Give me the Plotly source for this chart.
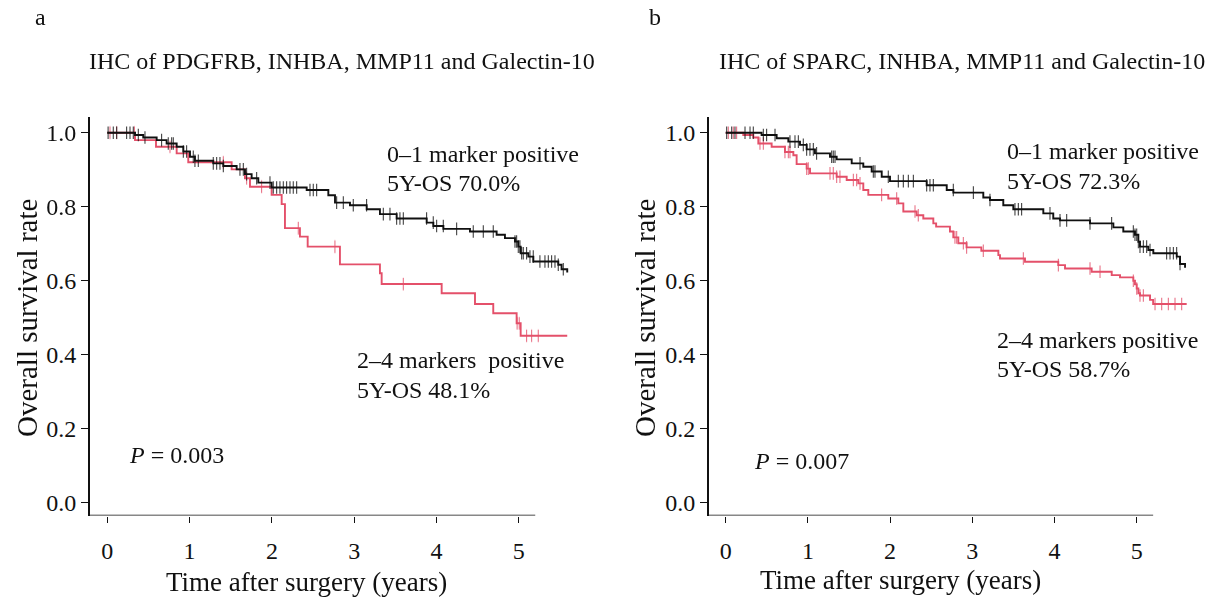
import numpy as np
import plotly.graph_objects as go

# ---------------- data ----------------
# Panel a : IHC of PDGFRB, INHBA, MMP11 and Galectin-10
a_low_t = [0, 0.337, 0.437, 0.600, 0.721, 0.843, 0.924, 1.005, 1.065, 1.288, 1.410, 1.572, 1.673,
           1.754, 1.835, 1.997, 2.423, 2.686, 2.767, 2.949, 3.152, 3.313, 3.516, 3.881, 3.962,
           4.084, 4.407, 4.731, 4.832, 4.954, 4.994, 5.023, 5.116, 5.177, 5.480, 5.520, 5.589]
a_low_s = [1.0, 0.994, 0.987, 0.980, 0.971, 0.962, 0.949, 0.935, 0.924, 0.917, 0.910, 0.901, 0.888,
           0.877, 0.865, 0.852, 0.845, 0.831, 0.811, 0.804, 0.793, 0.780, 0.768, 0.757, 0.748,
           0.740, 0.733, 0.724, 0.715, 0.706, 0.692, 0.674, 0.665, 0.652, 0.643, 0.631, 0.622]
a_low_cens = [0.01, 0.073, 0.114, 0.235, 0.276, 0.316, 0.377, 0.458, 0.660, 0.741, 0.782, 0.802,
              0.924, 0.964, 1.045, 1.065, 1.106, 1.288, 1.329, 1.369, 1.410, 1.612, 1.653, 1.693,
              1.815, 1.977, 2.017, 2.058, 2.098, 2.139, 2.179, 2.220, 2.260, 2.301, 2.463, 2.503,
              2.544, 2.787, 2.868, 2.989, 3.151, 3.354, 3.435, 3.516, 3.556, 3.597, 3.880, 3.961,
              4.002, 4.083, 4.245, 4.447, 4.569, 4.690, 4.954, 4.974, 4.994, 5.014, 5.035, 5.055,
              5.095, 5.136, 5.176, 5.257, 5.318, 5.359, 5.399, 5.440, 5.480, 5.541]

a_high_t = [0, 0.337, 0.592, 0.843, 0.984, 1.511, 1.673, 1.734, 1.997, 2.119, 2.159, 2.341, 2.435,
            2.827, 3.313, 3.334, 4.063, 4.468, 4.690, 4.974, 5.023, 5.589]
a_high_s = [1.0, 0.980, 0.962, 0.944, 0.920, 0.901, 0.877, 0.854, 0.832, 0.807, 0.742, 0.719, 0.692,
            0.644, 0.620, 0.591, 0.566, 0.537, 0.512, 0.485, 0.451, 0.451]
a_high_cens = [0.033, 0.114, 0.330, 0.762, 1.410, 1.693, 1.875, 2.321, 2.766, 3.597, 4.980, 5.006,
               5.095, 5.156, 5.237]

# Panel b : IHC of SPARC, INHBA, MMP11 and Galectin-10
b_low_t = [0, 0.437, 0.620, 0.762, 0.904, 0.985, 1.086, 1.269, 1.350, 1.533, 1.674, 1.776, 1.898,
           1.999, 2.445, 2.689, 2.770, 3.134, 3.215, 3.377, 3.499, 3.864, 3.985, 4.067, 4.432,
           4.716, 4.837, 4.979, 5.020, 5.040, 5.141, 5.202, 5.487, 5.527, 5.588]
b_low_s = [1.0, 0.994, 0.985, 0.976, 0.967, 0.955, 0.944, 0.935, 0.928, 0.917, 0.908, 0.895, 0.881,
           0.869, 0.858, 0.845, 0.838, 0.825, 0.818, 0.804, 0.793, 0.782, 0.768, 0.763, 0.755,
           0.744, 0.733, 0.724, 0.705, 0.692, 0.683, 0.674, 0.665, 0.645, 0.635]
b_low_cens = [0.012, 0.073, 0.113, 0.235, 0.296, 0.336, 0.458, 0.498, 0.600, 0.782, 0.843, 0.884,
              0.944, 0.985, 1.025, 1.066, 1.106, 1.289, 1.309, 1.330, 1.634, 1.796, 1.816, 1.978,
              2.100, 2.161, 2.222, 2.283, 2.445, 2.485, 2.526, 2.769, 3.013, 3.215, 3.519, 3.560,
              3.600, 3.945, 4.067, 4.148, 4.432, 4.695, 4.959, 4.979, 5.000, 5.020, 5.040, 5.081,
              5.121, 5.162, 5.364, 5.405, 5.446, 5.486, 5.527]

b_high_t = [0, 0.214, 0.336, 0.397, 0.559, 0.721, 0.823, 0.863, 0.985, 1.026, 1.350, 1.472, 1.613,
            1.674, 1.735, 1.978, 2.100, 2.161, 2.323, 2.404, 2.526, 2.560, 2.728, 2.769, 2.830,
            2.930, 3.110, 3.317, 3.337, 3.641, 4.046, 4.128, 4.452, 4.696, 4.797, 4.959, 4.979,
            5.000, 5.020, 5.040, 5.162, 5.200, 5.608]
b_high_s = [1.0, 0.994, 0.987, 0.971, 0.962, 0.948, 0.939, 0.915, 0.903, 0.890, 0.881, 0.872, 0.863,
            0.845, 0.832, 0.822, 0.809, 0.787, 0.777, 0.768, 0.755, 0.746, 0.733, 0.717, 0.701,
            0.690, 0.681, 0.669, 0.660, 0.651, 0.642, 0.633, 0.624, 0.615, 0.609, 0.600, 0.590,
            0.579, 0.566, 0.560, 0.548, 0.537, 0.537]
b_high_cens = [0.032, 0.093, 0.133, 0.417, 0.458, 0.721, 0.762, 0.782, 0.985, 1.005, 1.269, 1.309,
               1.350, 1.390, 1.553, 1.593, 1.634, 1.897, 2.080, 2.303, 2.343, 2.789, 2.810, 2.891,
               2.931, 3.134, 3.621, 4.047, 4.432, 4.554, 4.959, 5.000, 5.040, 5.081, 5.223, 5.304,
               5.385, 5.466, 5.547]

x_ticks = [0, 1, 2, 3, 4, 5]
y_ticks = [0.0, 0.2, 0.4, 0.6, 0.8, 1.0]
y_ticktext = ["0.0", "0.2", "0.4", "0.6", "0.8", "1.0"]

titles = ["IHC of PDGFRB, INHBA, MMP11 and Galectin-10", "IHC of SPARC, INHBA, MMP11 and Galectin-10"]
labels_low = [["0–1 marker positive", "5Y-OS 70.0%"], ["0–1 marker positive", "5Y-OS 72.3%"]]
labels_high = [["2–4 markers  positive", "5Y-OS 48.1%"], ["2–4 markers positive", "5Y-OS 58.7%"]]
p_values = ["0.003", "0.007"]

# ---------------- styling ----------------
W, H = 1222, 604
FONT = "Liberation Serif, Times New Roman, serif"
BLACK = "#111111"
RED = "#E4506A"


def px(x):
    return x / W


def py(y):
    return 1 - y / H


def step_at(times, surv, t):
    idx = np.searchsorted(np.asarray(times), np.asarray(t), side="right") - 1
    return np.asarray(surv)[idx]


fig = go.Figure()

panels = [
    dict(xa="x", ya="y", low=(a_low_t, a_low_s, a_low_cens), high=(a_high_t, a_high_s, a_high_cens)),
    dict(xa="x2", ya="y2", low=(b_low_t, b_low_s, b_low_cens), high=(b_high_t, b_high_s, b_high_cens)),
]

for p in panels:
    for (t, s, c), col in ((p["high"], RED), (p["low"], BLACK)):
        fig.add_trace(go.Scatter(x=t, y=s, mode="lines", line=dict(color=col, width=1.9, shape="hv"),
                                 xaxis=p["xa"], yaxis=p["ya"], showlegend=False, hoverinfo="skip"))
        fig.add_trace(go.Scatter(x=c, y=step_at(t, s, c), mode="markers",
                                 marker=dict(symbol="line-ns-open", size=9, color=col,
                                             line=dict(color=col, width=1.1)),
                                 opacity=0.8,
                                 xaxis=p["xa"], yaxis=p["ya"], showlegend=False, hoverinfo="skip"))

xdom = [[90 / W, 580 / W], [709 / W, 1200 / W]]
xrng = [[-0.21, 5.744], [-0.203, 5.77]]
ydom = [py(515.6), py(116.8)]
yrng = [-0.035, 1.043]

common_x = dict(showgrid=False, zeroline=False, showline=False, ticks="outside", ticklen=6,
                tickwidth=1, tickcolor=BLACK, tickvals=x_ticks, ticklabelstandoff=8,
                tickfont=dict(family=FONT, size=24, color=BLACK))
common_y = dict(showgrid=False, zeroline=False, showline=True, linecolor=BLACK, linewidth=1.8,
                ticks="outside", ticklen=7, tickwidth=1, tickcolor=BLACK,
                tickvals=y_ticks, ticktext=y_ticktext, range=yrng, domain=ydom,
                tickfont=dict(family=FONT, size=24, color=BLACK))

fig.update_layout(
    width=W, height=H, margin=dict(l=0, r=0, t=0, b=0),
    paper_bgcolor="white", plot_bgcolor="white",
    xaxis=dict(domain=xdom[0], range=xrng[0], anchor="y", **common_x),
    yaxis=dict(anchor="x", **common_y),
    xaxis2=dict(domain=xdom[1], range=xrng[1], anchor="y2", **common_x),
    yaxis2=dict(anchor="x2", **common_y),
)

# x axis lines (end at 5.2 while curves continue)
for xr, (xa, ya) in zip(xrng, (("x", "y"), ("x2", "y2"))):
    fig.add_shape(type="line", xref=xa, yref=ya, x0=xr[0], x1=5.2, y0=yrng[0], y1=yrng[0],
                  line=dict(color=BLACK, width=1.8))

ann = []


def add_text(text, x, y, size=24, xanchor="left", textangle=0):
    ann.append(dict(text=text, x=px(x), y=py(y), xref="paper", yref="paper", showarrow=False,
                    xanchor=xanchor, yanchor="middle", textangle=textangle,
                    font=dict(family=FONT, size=size, color=BLACK)))


# panel letters and titles
add_text("a", 40, 17, size=24, xanchor="center")
add_text("b", 655, 17, size=24, xanchor="center")
add_text(titles[0], 342, 61, size=24, xanchor="center")
add_text(titles[1], 962, 61, size=24, xanchor="center")

# axis titles
for cx in (27, 645):
    add_text("Overall survival rate", cx, 318, size=29, xanchor="center", textangle=-90)
add_text("Time after surgery (years)", 306, 582, size=27, xanchor="center")
add_text("Time after surgery (years)", 900, 580, size=27, xanchor="center")

# curve labels
add_text(labels_low[0][0], 385, 154)
add_text(labels_low[0][1], 385, 183)
add_text(labels_high[0][0], 355, 360)
add_text(labels_high[0][1], 355, 390)
add_text("<i>P</i> = " + p_values[0], 127, 455)

add_text(labels_low[1][0], 1005, 151)
add_text(labels_low[1][1], 1005, 181)
add_text(labels_high[1][0], 995, 340)
add_text(labels_high[1][1], 995, 369)
add_text("<i>P</i> = " + p_values[1], 752, 461)

fig.update_layout(annotations=ann)
fig.write_html("out.html", config={"displayModeBar": False},
               post_script="document.body.style.margin='0';")
